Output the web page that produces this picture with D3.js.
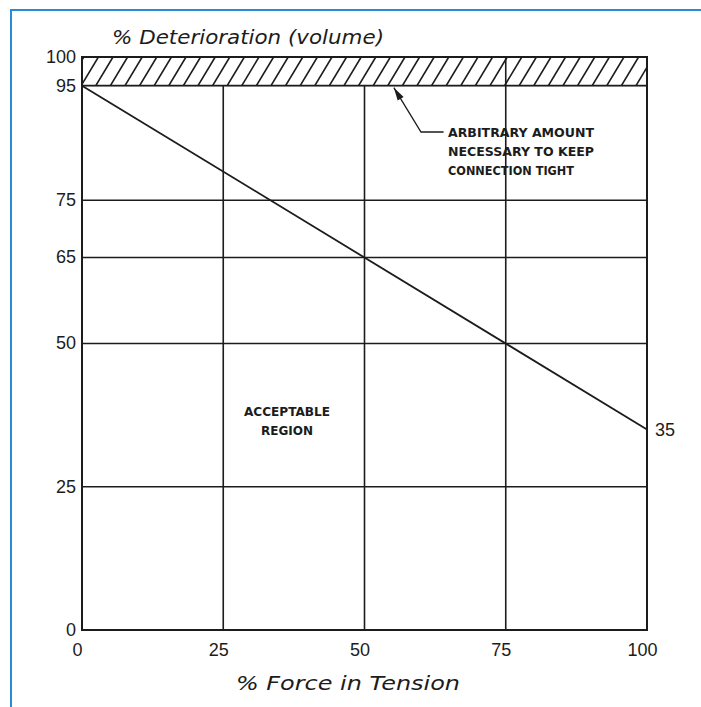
<!DOCTYPE html>
<html>
<head>
<meta charset="utf-8">
<script src="https://cdn.jsdelivr.net/npm/d3@7"></script>
<style>
  body { margin: 0; background: #fff; }
  svg { display: block; }
</style>
</head>
<body>
<div id="chart"></div>
<script>
// data
const xTicks = [0, 25, 50, 75, 100];
const yTicks = [0, 25, 50, 65, 75, 95, 100];
const xGrid = [25, 50, 75];
const yGrid = [25, 50, 65, 75];
const lineX = [0, 100];
const lineY = [95, 35];
const band = [95, 100];
const endLabel = "35";
const noteLines = ["ARBITRARY AMOUNT", "NECESSARY TO KEEP", "CONNECTION TIGHT"];
const regionLines = ["ACCEPTABLE", "REGION"];

const W = 701, H = 707;
const margin = { top: 57, right: 54, bottom: 77, left: 82 },
  width = W - margin.left - margin.right,
  height = H - margin.top - margin.bottom;

const ink = "#1c1c1c";
const tickFont = "'Liberation Sans', Arial, sans-serif";

const svg = d3.select("#chart").append("svg")
  .attr("width", W).attr("height", H);

// blue page frame
svg.append("rect")
  .attr("x", 11).attr("y", 10)
  .attr("width", 720).attr("height", 720)
  .attr("fill", "none").attr("stroke", "#2a8ad6").attr("stroke-width", 2);

const g = svg.append("g")
  .attr("transform", "translate(" + margin.left + "," + margin.top + ")");

const x = d3.scaleLinear().domain([0, 100]).range([0, width]);
const y = d3.scaleLinear().domain([0, 100]).range([height, 0]);

// hatched band
g.append("clipPath").attr("id", "bandclip")
  .append("rect")
  .attr("x", 0).attr("y", y(band[1]))
  .attr("width", width).attr("height", y(band[0]) - y(band[1]));

const bh = y(band[0]) - y(band[1]);
g.append("g").attr("clip-path", "url(#bandclip)")
  .selectAll("line")
  .data(d3.range(-30, width + 30, 14.6))
  .enter().append("line")
  .attr("x1", (d) => d).attr("y1", y(band[0]))
  .attr("x2", (d) => d + bh * 0.6).attr("y2", y(band[1]))
  .attr("stroke", ink).attr("stroke-width", 1.6);

g.append("rect")
  .attr("x", 0).attr("y", y(band[1]))
  .attr("width", width).attr("height", bh)
  .attr("fill", "none").attr("stroke", ink).attr("stroke-width", 1.8);

// grid
g.selectAll(".hgrid").data(yGrid).enter().append("line")
  .attr("class", "hgrid")
  .attr("x1", 0).attr("x2", width)
  .attr("y1", (d) => y(d)).attr("y2", (d) => y(d))
  .attr("stroke", ink).attr("stroke-width", 1.4);

g.selectAll(".vgrid").data(xGrid).enter().append("line")
  .attr("class", "vgrid")
  .attr("x1", (d) => x(d)).attr("x2", (d) => x(d))
  .attr("y1", y(0)).attr("y2", (d) => (d === 75 ? y(100) : y(95)))
  .attr("stroke", ink).attr("stroke-width", 1.6);

// plot frame
g.append("rect")
  .attr("x", 0).attr("y", 0)
  .attr("width", width).attr("height", height)
  .attr("fill", "none").attr("stroke", ink).attr("stroke-width", 2);

// deterioration line
const pts = lineX.map((d, i) => [d, lineY[i]]);
g.append("path")
  .attr("d", d3.line().x((d) => x(d[0])).y((d) => y(d[1]))(pts))
  .attr("fill", "none").attr("stroke", ink).attr("stroke-width", 1.8);

g.append("text")
  .attr("x", x(100) + 8).attr("y", y(35) + 7)
  .attr("font-family", tickFont).attr("font-size", 18)
  .attr("fill", ink)
  .text(endLabel);

// axes (labels only, the frame draws the lines)
const xAxis = g.append("g")
  .attr("transform", "translate(0," + height + ")")
  .call(d3.axisBottom(x).tickValues(xTicks).tickSize(0).tickPadding(13));
xAxis.select(".domain").remove();
xAxis.selectAll("text")
  .attr("dx", -5)
  .attr("font-family", tickFont).attr("font-size", 18).attr("fill", ink);

const yAxis = g.append("g")
  .call(d3.axisLeft(y).tickValues(yTicks).tickSize(0).tickPadding(6));
yAxis.select(".domain").remove();
yAxis.selectAll("text")
  .attr("dy", "0.3em")
  .attr("font-family", tickFont).attr("font-size", 18).attr("fill", ink);

// axis titles
svg.append("text")
  .attr("x", 112).attr("y", 44)
  .attr("font-family", "'DejaVu Sans', sans-serif").attr("font-style", "italic")
  .attr("font-size", 19).attr("fill", ink)
  .attr("textLength", 272).attr("lengthAdjust", "spacingAndGlyphs")
  .text("% Deterioration (volume)");

svg.append("text")
  .attr("x", 236).attr("y", 690)
  .attr("font-family", "'DejaVu Sans', sans-serif").attr("font-style", "italic")
  .attr("font-size", 19).attr("fill", ink)
  .attr("textLength", 224).attr("lengthAdjust", "spacingAndGlyphs")
  .text("% Force in Tension");

// annotation with arrow
const tip = [x(55.2), y(95) + 2];
const elbow = [x(60), 132 - margin.top];
const end = [x(64), 132 - margin.top];
g.append("path")
  .attr("d", d3.line()([tip, elbow, end]))
  .attr("fill", "none").attr("stroke", ink).attr("stroke-width", 1.3);

const ang = Math.atan2(elbow[1] - tip[1], elbow[0] - tip[0]);
const al = 13, aw = 3.5;
const bx = tip[0] + al * Math.cos(ang), by = tip[1] + al * Math.sin(ang);
g.append("path")
  .attr("d", d3.line()([
    tip,
    [bx + aw * Math.sin(ang), by - aw * Math.cos(ang)],
    [bx - aw * Math.sin(ang), by + aw * Math.cos(ang)]
  ]) + "Z")
  .attr("fill", ink);

const noteLen = [146, 146, 126];
svg.selectAll(".note").data(noteLines).enter().append("text")
  .attr("class", "note")
  .attr("x", 448).attr("y", (d, i) => 137 + i * 19)
  .attr("font-family", "'DejaVu Sans Condensed', sans-serif").attr("font-weight", "bold")
  .attr("font-size", 12).attr("fill", ink)
  .attr("textLength", (d, i) => noteLen[i]).attr("lengthAdjust", "spacingAndGlyphs")
  .text((d) => d);

const regLen = [86, 52];
svg.selectAll(".region").data(regionLines).enter().append("text")
  .attr("class", "region")
  .attr("x", 287).attr("y", (d, i) => 416 + i * 19)
  .attr("text-anchor", "middle")
  .attr("font-family", "'DejaVu Sans Condensed', sans-serif").attr("font-weight", "bold")
  .attr("font-size", 12).attr("fill", ink)
  .attr("textLength", (d, i) => regLen[i]).attr("lengthAdjust", "spacingAndGlyphs")
  .text((d) => d);
</script>
</body>
</html>
